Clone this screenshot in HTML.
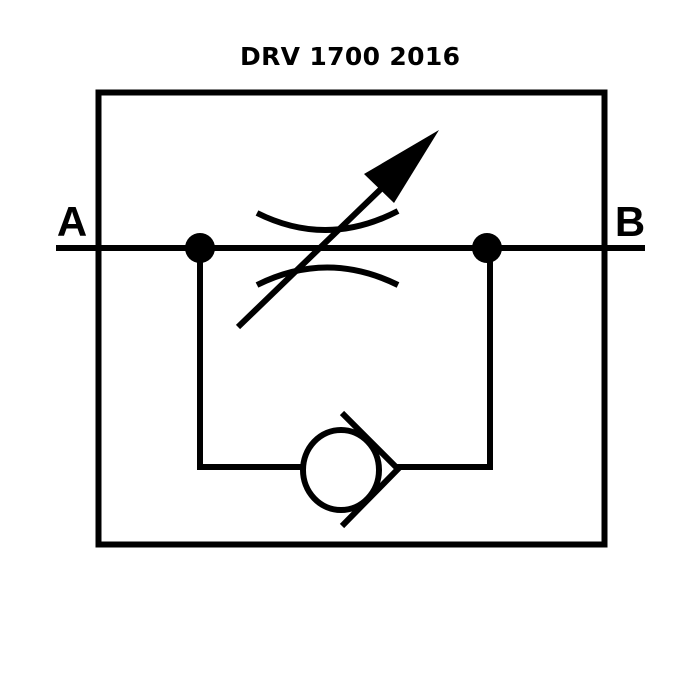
<!DOCTYPE html>
<html><head><style>html,body{margin:0;padding:0;background:#fff}svg{display:block}</style></head>
<body>
<svg width="700" height="700" viewBox="0 0 700 700" xmlns="http://www.w3.org/2000/svg">
<rect width="700" height="700" fill="#fff"/>
<text x="240" y="65" textLength="220" lengthAdjust="spacing" font-family="DejaVu Sans, sans-serif" font-weight="bold" font-size="25" fill="#000">DRV  1700  2016</text>
<text x="72" y="236" text-anchor="middle" font-family="Liberation Sans, sans-serif" font-weight="bold" font-size="42" fill="#000">A</text>
<text x="630" y="236" text-anchor="middle" font-family="Liberation Sans, sans-serif" font-weight="bold" font-size="42" fill="#000">B</text>
<rect x="98.5" y="92.5" width="506" height="452" fill="none" stroke="#000" stroke-width="6"/>
<line x1="56" y1="248" x2="645" y2="248" stroke="#000" stroke-width="6"/>
<circle cx="200" cy="248" r="15" fill="#000"/>
<circle cx="487" cy="248" r="15" fill="#000"/>
<polyline points="200,248 200,467 305,467" fill="none" stroke="#000" stroke-width="6"/>
<polyline points="397,467 490,467 490,248" fill="none" stroke="#000" stroke-width="6"/>
<ellipse cx="341" cy="470" rx="38" ry="40" fill="none" stroke="#000" stroke-width="6"/>
<polyline points="342,413 398,469 342,526" fill="none" stroke="#000" stroke-width="6"/>
<path d="M257,213 Q327,248 398,211" fill="none" stroke="#000" stroke-width="6"/>
<path d="M257,285 Q327,250 398,285" fill="none" stroke="#000" stroke-width="6"/>
<line x1="238" y1="327" x2="385" y2="185" stroke="#000" stroke-width="6"/>
<polygon points="439,130 364,174 394,203" fill="#000"/>
</svg>
</body></html>
